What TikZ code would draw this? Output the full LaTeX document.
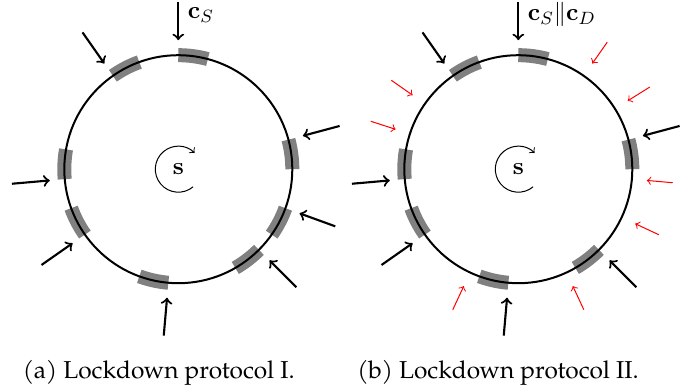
\documentclass[tikz,border=0pt]{standalone}
\usepackage[no-math]{fontspec}
\newfontfamily\capfont{TeX Gyre Pagella}
\usetikzlibrary{arrows}
\begin{document}
\begin{tikzpicture}[x=0.45pt,y=0.45pt,
  ring/.style={line width=0.9pt},
  block/.style={draw=gray, line width=6.3pt},
  blk/.style={->, line width=0.95pt},
  redarr/.style={->, red, line width=0.45pt},
  spin/.style={->, line width=0.45pt},
  lab/.style={inner sep=0pt, font=\fontsize{11.2}{13}\selectfont},
  captext/.style={inner sep=0pt, font=\capfont\fontsize{11}{13}\selectfont}]
\useasboundingbox (0,0) rectangle (699,391);
\coordinate (CL) at (178.3,221.8);
\coordinate (CR) at (518.3,221.8);
% gray blocks
\foreach \a in {90,125,15,185,215,265,315,340}{
  \coordinate (L-b\a) at ([shift={(\a-15:114)}]CL);
  \draw[block] (L-b\a) arc[start angle=\a-15, end angle=\a, radius=114];
}
\foreach \a in {90,125,15,185,215,265,315}{
  \coordinate (R-b\a) at ([shift={(\a-15:114)}]CR);
  \draw[block] (R-b\a) arc[start angle=\a-15, end angle=\a, radius=114];
}
% rings
\draw[ring] (CL) circle[radius=114];
\draw[ring] (CR) circle[radius=114];
% black arrows
\foreach \a in {90,125,15,185,215,265,315,340}{
  \coordinate (L-t\a) at ([shift={(\a:167)}]CL);
  \coordinate (L-h\a) at ([shift={(\a:129)}]CL);
  \draw[blk] (L-t\a) -- (L-h\a);
}
\foreach \a in {90,125,15,185,215,265,315}{
  \coordinate (R-t\a) at ([shift={(\a:167)}]CR);
  \coordinate (R-h\a) at ([shift={(\a:129)}]CR);
  \draw[blk] (R-t\a) -- (R-h\a);
}
% red arrows
\foreach \a in {55,32,355,335,295,245,162,145}{
  \coordinate (R-rt\a) at ([shift={(\a:155)}]CR);
  \coordinate (R-rh\a) at ([shift={(\a:129)}]CR);
  \draw[redarr] (R-rt\a) -- (R-rh\a);
}
% spin arrows and s labels
\coordinate (L-s0) at ([shift={(-50:23)}]CL);
\draw[spin] (L-s0) arc[start angle=-50, end angle=-315, radius=23];
\coordinate (R-s0) at ([shift={(-50:23)}]CR);
\draw[spin] (R-s0) arc[start angle=-50, end angle=-315, radius=23];
\node[lab] (sL) at (CL) {$\mathbf{s}$};
\node[lab] (sR) at (CR) {$\mathbf{s}$};
% top labels
\node[lab, anchor=base west] (labL) at (187.5,372.5) {$\mathbf{c}_S$};
\node[lab, anchor=base west] (labR) at (527.5,370.3) {$\mathbf{c}_S\|\mathbf{c}_D$};
% captions
\node[captext, anchor=base] (capA) at (158.8,12) {(a) Lockdown protocol I.};
\node[captext, anchor=base] (capB) at (498,12) {(b) Lockdown protocol II.};
\end{tikzpicture}
\end{document}
